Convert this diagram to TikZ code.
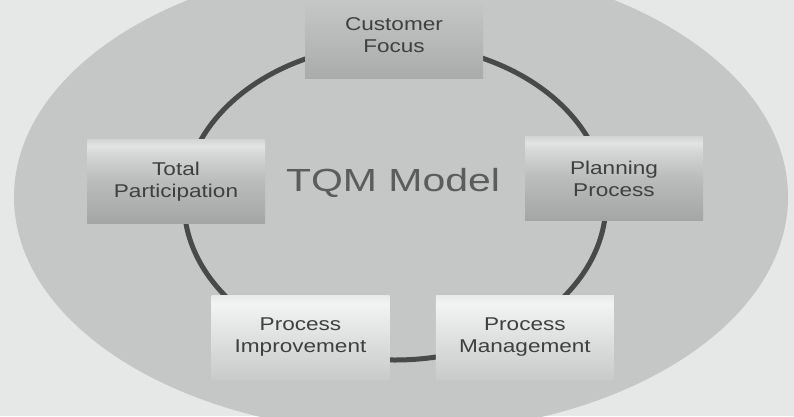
\documentclass[tikz,border=0pt]{standalone}
\usepackage{fontspec}
\setmainfont{Liberation Sans}
\newfontfamily\boxfont[FakeStretch=1.22]{Liberation Sans}
\newfontfamily\titlefont[FakeStretch=1.28]{Liberation Sans}
\usepackage{xcolor}
\usepackage{tikz}
\usetikzlibrary{positioning}

\definecolor{paper}{RGB}{230,232,231}
\definecolor{disc}{RGB}{196,199,197}
\definecolor{ringgray}{RGB}{72,74,73}
\definecolor{ink}{RGB}{62,64,63}
\definecolor{darklow}{RGB}{164,166,165}
\definecolor{darkmid}{RGB}{186,188,187}
\definecolor{darkhigh}{RGB}{212,214,213}
\definecolor{darkband}{RGB}{226,228,227}
\definecolor{focuslow}{RGB}{170,172,171}
\definecolor{focushigh}{RGB}{200,202,201}
\definecolor{lightlow}{RGB}{200,203,201}
\definecolor{lighthigh}{RGB}{232,234,233}
\definecolor{lightband}{RGB}{242,244,243}

% shadings run bottom (25bp) to top (75bp) of the box
\pgfdeclareverticalshading{upperbox}{100bp}{color(0bp)=(darklow); color(25bp)=(darklow);
  color(50bp)=(darkmid); color(66bp)=(darkhigh); color(71bp)=(darkband); color(75bp)=(darkhigh); color(100bp)=(darkhigh)}
\pgfdeclareverticalshading{focusbox}{100bp}{color(0bp)=(focuslow); color(25bp)=(focuslow);
  color(75bp)=(focushigh); color(100bp)=(focushigh)}
\pgfdeclareverticalshading{lowerbox}{100bp}{color(0bp)=(lightlow); color(25bp)=(lightlow);
  color(60bp)=(lighthigh); color(70bp)=(lightband); color(75bp)=(lighthigh); color(100bp)=(lighthigh)}

\begin{document}
\begin{tikzpicture}[x=1pt, y=-1pt, node distance=46pt]
    \tikzstyle{stage} = [rectangle, inner sep=0pt, minimum width=178pt, minimum height=84pt, align=center, text=ink, font={\boxfont\fontsize{18.5}{22}\selectfont}]
    \tikzstyle{upper} = [stage, shading=upperbox]
    \tikzstyle{lower} = [stage, shading=lowerbox]
    \tikzstyle{ring} = [draw=ringgray, line width=5pt]

    \clip (0,0) rectangle (794,416);
    \fill[paper] (0,0) rectangle (794,416);

    % grey disc and the cycle behind the stages
    \fill[disc] (401,197) ellipse [x radius=387, y radius=236];
    \draw[ring] (395,202) ellipse [x radius=211, y radius=158];

    \node (title) [anchor=base, text=ink!85!white, font={\titlefont\fontsize{32}{36}\selectfont}] at (393,191) {TQM Model};

    \node (focus) [stage, shading=focusbox, minimum height=86pt] at (394,35) {Customer\\Focus};
    \node (total) [upper] at (176,181.5) {Total\\Participation};
    \node (plan) [upper] at (614,178.5) {Planning\\Process};
    \node (improve) [lower] at (300.5,337.5) {Process\\Improvement};
    \node (manage) [lower, right=of improve] {Process\\Management};
\end{tikzpicture}
\end{document}
